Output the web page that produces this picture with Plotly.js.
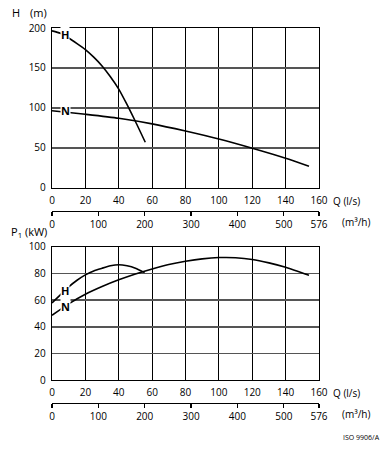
<!DOCTYPE html>
<html>
<head>
<meta charset="utf-8">
<script src="https://cdn.plot.ly/plotly-3.0.1.min.js"></script>
<style>html,body{margin:0;padding:0;background:#fff;}#chart{width:391px;height:450px;}</style>
</head>
<body>
<div id="chart"></div>
<script>
// Flow ticks
const flowTicks = [0, 20, 40, 60, 80, 100, 120, 140, 160];
const m3hTicks = [0, 100, 200, 300, 400, 500, 576];
const headTicks = [0, 50, 100, 150, 200];
const powerTicks = [0, 20, 40, 60, 80, 100];

// Head curves (Q in l/s, H in m)
const headH_Q = [0, 5, 10, 15, 20, 25, 30, 35, 40, 45, 50, 55.9];
const headH_H = [196.5, 193.5, 187.5, 180.5, 173, 163.5, 152.5, 139, 123.5, 104, 83, 57];
const headN_Q = [0, 20, 40, 60, 80, 100, 120, 140, 154];
const headN_H = [96.5, 92, 87, 80, 71, 61, 49.5, 37, 27];

// Power curves (Q in l/s, P1 in kW)
const powH_Q = [0, 5, 10, 15, 20, 25, 30, 35, 40, 45, 50, 55.5];
const powH_P = [58, 64, 70, 75, 79, 82, 84, 85.8, 86.6, 85.8, 84, 80.7];
const powN_Q = [0, 10, 20, 30, 40, 50, 60, 70, 80, 90, 100, 110, 120, 130, 140, 154];
const powN_P = [48.7, 57.3, 64.5, 70.3, 75.3, 79.7, 83.5, 86.8, 89.2, 91, 92, 91.9, 90.6, 88, 84.7, 78.7];

// Curve labels
const curveLabels = ["H", "N", "H", "N"];
const curveLabelQ = [8, 8, 7.6, 8];
const curveLabelV = [191.5, 96.6, 67, 55.5];

const FONT = "Open Sans, DejaVu Sans, sans-serif";
const line = {color: "#000", width: 1.6, shape: "spline", smoothing: 0.6};

const traces = [
  {x: headH_Q, y: headH_H, xaxis: "x", yaxis: "y", mode: "lines", line: line, hoverinfo: "skip"},
  {x: headN_Q, y: headN_H, xaxis: "x", yaxis: "y", mode: "lines", line: line, hoverinfo: "skip"},
  {x: powH_Q, y: powH_P, xaxis: "x2", yaxis: "y2", mode: "lines", line: line, hoverinfo: "skip"},
  {x: powN_Q, y: powN_P, xaxis: "x2", yaxis: "y2", mode: "lines", line: line, hoverinfo: "skip"},
  {x: [0, 576], y: [null, null], xaxis: "x3", yaxis: "y", mode: "lines", hoverinfo: "skip"},
  {x: [0, 576], y: [null, null], xaxis: "x4", yaxis: "y2", mode: "lines", hoverinfo: "skip"}
];

const tickFont = {family: FONT, size: 10, color: "#000"};

function flowAxis(anchor) {
  return {
    anchor: anchor, domain: [0, 1], range: [0, 160], tickvals: flowTicks,
    ticktext: flowTicks.map(String), showgrid: true, gridcolor: "#000", gridwidth: 1,
    showline: true, linecolor: "#000", linewidth: 1.2, mirror: true,
    ticks: "outside", ticklen: 3, tickcolor: "#fff", zeroline: false, tickfont: tickFont
  };
}
function m3hAxis(over, pos) {
  return {
    overlaying: over, anchor: "free", position: pos, domain: [0, 1], range: [0, 576],
    tickvals: m3hTicks, ticktext: m3hTicks.map(String), showgrid: false,
    showline: true, linecolor: "#000", linewidth: 1.2, ticks: "outside", ticklen: 4,
    tickcolor: "#000", tickwidth: 1.2, zeroline: false, tickfont: tickFont
  };
}
function valAxis(anchor, domain, range, ticks) {
  return {
    anchor: anchor, domain: domain, range: range, tickvals: ticks, ticktext: ticks.map(String),
    showgrid: true, gridcolor: "#555", gridwidth: 1.5,
    showline: true, linecolor: "#000", linewidth: 1.2, mirror: true,
    ticks: "outside", ticklen: 3, tickcolor: "#fff", zeroline: false, tickfont: tickFont
  };
}

const annFont = {family: FONT, size: 11, color: "#000"};
const annotations = [];
for (let i = 0; i < curveLabels.length; i++) {
  annotations.push({
    text: curveLabels[i], x: curveLabelQ[i], y: curveLabelV[i],
    xref: i < 2 ? "x" : "x2", yref: i < 2 ? "y" : "y2",
    showarrow: false, bgcolor: "#fff", borderpad: 0,
    font: {family: FONT, size: 11, color: "#000", weight: "bold"}
  });
}
const P = (px) => (px - 52) / 267.3;
const Q = (py) => (402.7 - py) / 374.7;
annotations.push(
  {text: "H", x: P(10), y: Q(13), xref: "paper", yref: "paper", xanchor: "left", yanchor: "middle", showarrow: false, font: annFont},
  {text: "(m)", x: P(28), y: Q(13), xref: "paper", yref: "paper", xanchor: "left", yanchor: "middle", showarrow: false, font: annFont},
  {text: "P<sub>1</sub> (kW)", x: P(9), y: Q(231.5), xref: "paper", yref: "paper", xanchor: "left", yanchor: "middle", showarrow: false, font: annFont},
  {text: "Q (l/s)", x: P(331), y: Q(200.7), xref: "paper", yref: "paper", xanchor: "left", yanchor: "middle", showarrow: false, font: tickFont},
  {text: "(m³/h)", x: P(340), y: Q(221.7), xref: "paper", yref: "paper", xanchor: "left", yanchor: "middle", showarrow: false, font: tickFont},
  {text: "Q (l/s)", x: P(331), y: Q(393), xref: "paper", yref: "paper", xanchor: "left", yanchor: "middle", showarrow: false, font: tickFont},
  {text: "(m³/h)", x: P(340), y: Q(413.5), xref: "paper", yref: "paper", xanchor: "left", yanchor: "middle", showarrow: false, font: tickFont},
  {text: "ISO 9906/A", x: P(341), y: Q(437), xref: "paper", yref: "paper", xanchor: "left", yanchor: "middle", showarrow: false, font: {family: FONT, size: 7, color: "#000"}}
);

const layout = {
  width: 391, height: 450,
  margin: {l: 52, r: 72, t: 28, b: 47.3, pad: 0},
  paper_bgcolor: "#fff", plot_bgcolor: "#fff",
  showlegend: false,
  xaxis: flowAxis("y"),
  yaxis: valAxis("x", [0.5738, 1], [0, 200], headTicks),
  xaxis2: flowAxis("y2"),
  yaxis2: valAxis("x2", [0.0606, 0.4163], [0, 100], powerTicks),
  xaxis3: m3hAxis("x", 0.5124),
  xaxis4: m3hAxis("x2", 0),
  annotations: annotations
};

Plotly.newPlot("chart", traces, layout, {staticPlot: true, displayModeBar: false});
</script>
</body>
</html>
